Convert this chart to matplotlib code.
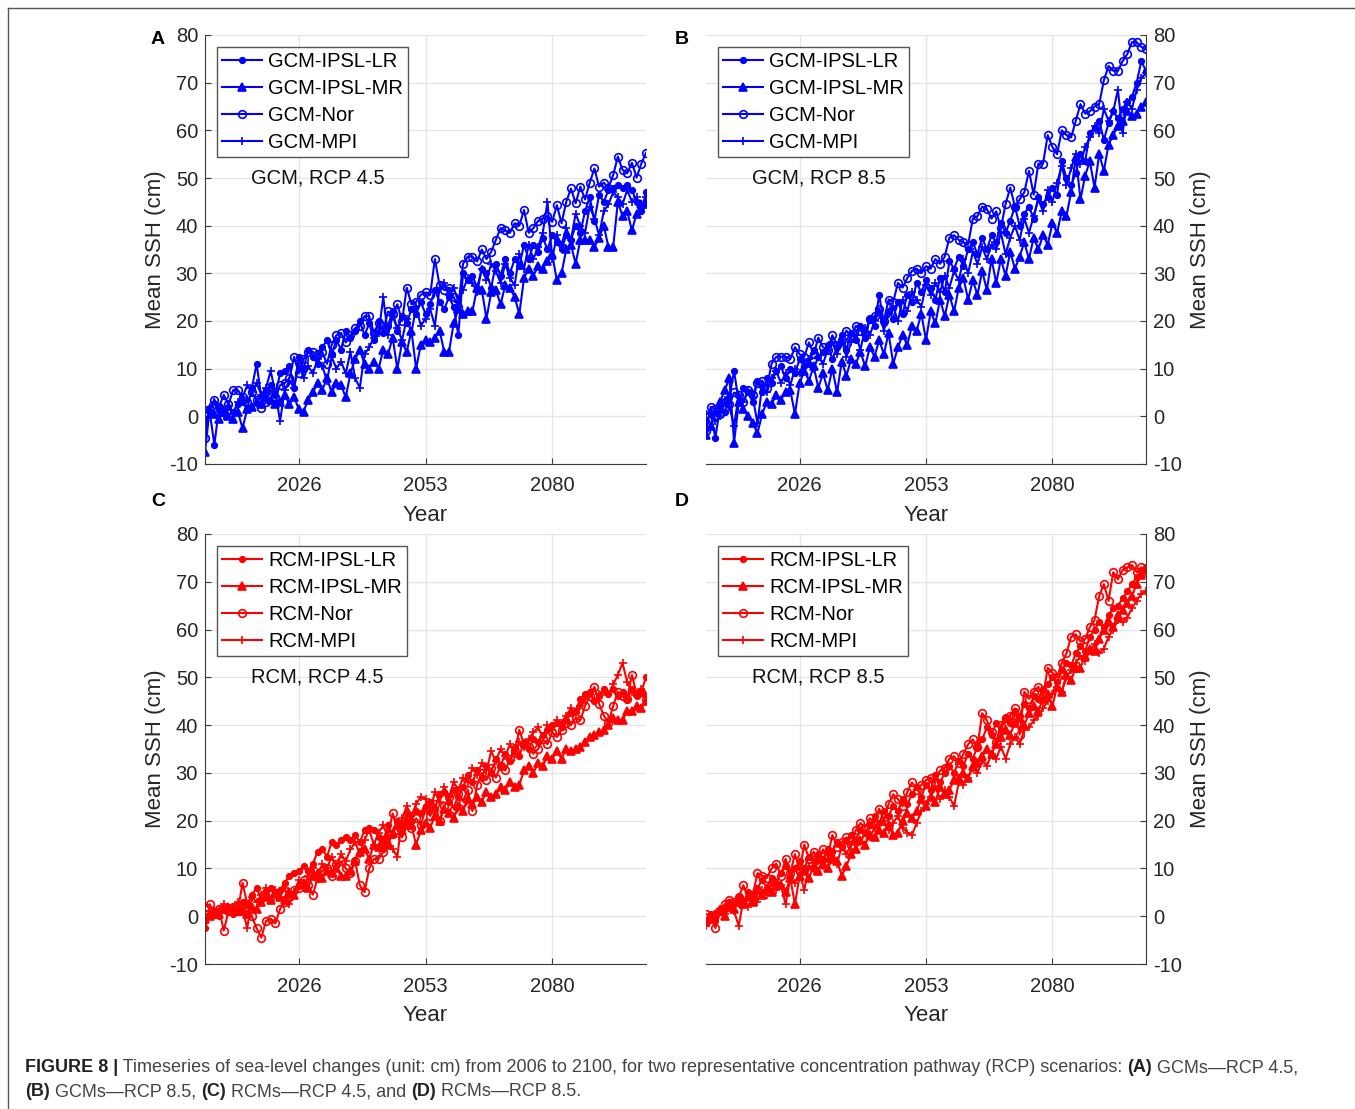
import matplotlib
matplotlib.use("Agg")
import matplotlib.pyplot as plt
from matplotlib.lines import Line2D

plt.rcParams['font.family'] = ['Liberation Sans', 'DejaVu Sans']
plt.rcParams['axes.unicode_minus'] = False

years = list(range(2006, 2101))

# ---------------- Panel A: GCM, RCP 4.5 ----------------
A_LR = [-1.0, 1.0, -6.0, 2.0, 1.0, 2.0, 1.0, 2.5, 3.0, 1.5, 6.0, 11.0, 4.0, 5.5, 6.5, 4.5, 9.0, 9.5, 10.5, 6.0,
        12.5, 10.0, 14.0, 12.5, 11.0, 14.5, 16.0, 13.0, 16.0, 14.0, 18.0, 16.5, 18.0, 20.0, 17.0, 19.5, 16.0, 20.0,
        17.5, 19.0, 22.0, 18.0, 21.0, 19.5, 22.5, 21.5, 24.0, 21.5, 23.5, 26.5, 24.0, 22.5, 25.0, 23.0, 17.0, 30.0,
        28.5, 29.5, 27.0, 31.0, 30.0, 27.0, 32.0, 29.5, 33.0, 30.0, 33.0, 31.5, 36.0, 33.0, 36.0, 34.5, 37.5, 35.0,
        38.0, 36.5, 35.0, 38.0, 37.0, 40.0, 38.5, 43.0, 46.0, 41.0, 46.5, 45.0, 47.5, 48.0, 48.5, 48.0, 48.5, 47.5,
        45.0, 43.0, 47.0]
A_MR = [-7.5, 1.5, 0.5, -0.5, 1.0, 0.0, -0.5, 1.0, -2.5, 1.5, 2.0, 3.0, 2.5, 4.0, 3.5, 2.5, 3.0, 4.5, 2.5, 4.0,
        1.5, 1.0, 3.5, 5.0, 7.0, 5.5, 8.0, 5.0, 7.0, 6.5, 4.0, 9.0, 12.0, 14.0, 11.0, 10.0, 11.5, 10.0, 14.0, 13.0,
        16.5, 10.0, 15.5, 13.5, 18.0, 10.0, 15.0, 16.0, 15.5, 16.5, 18.0, 13.5, 13.5, 19.5, 22.5, 21.5, 22.0, 22.0,
        27.0, 26.5, 20.5, 26.0, 26.5, 23.5, 27.5, 27.0, 25.0, 21.5, 29.0, 31.0, 29.5, 31.5, 31.0, 32.5, 34.0, 28.5,
        30.0, 35.0, 36.0, 32.0, 37.0, 37.0, 37.0, 35.5, 37.5, 40.0, 35.5, 35.5, 45.0, 42.0, 43.0, 39.0, 42.5, 44.5,
        44.5]
A_Nor = [-4.5, 1.5, 3.5, 2.0, 4.5, 2.5, 5.5, 5.5, 4.0, 3.0, 5.0, 3.5, 1.8, 3.0, 5.5, 4.0, 6.5, 7.0, 8.0, 12.5,
         9.0, 12.0, 13.5, 13.5, 13.0, 13.5, 11.0, 15.0, 17.0, 17.5, 15.5, 17.0, 18.5, 19.0, 21.0, 21.0, 17.5, 19.5,
         18.0, 22.0, 21.5, 23.5, 20.0, 27.0, 23.5, 24.0, 25.5, 26.0, 25.5, 33.0, 27.5, 26.5, 27.0, 25.0, 23.0, 32.0,
         33.5, 33.5, 32.5, 35.0, 33.0, 34.5, 37.0, 39.5, 39.0, 38.5, 40.5, 40.0, 43.3, 38.5, 39.5, 41.0, 41.5, 42.0,
         40.8, 44.3, 40.5, 45.0, 47.8, 44.7, 48.2, 45.5, 49.0, 52.0, 48.2, 49.0, 48.0, 50.6, 54.5, 51.7, 51.0, 53.2,
         50.1, 53.0, 55.3]
A_MPI = [1.5, 2.0, 3.0, 1.0, 0.0, 2.0, 0.5, 3.0, 4.0, 6.5, 5.0, 7.0, 4.5, 6.0, 9.5, 5.0, -1.0, 5.5, 7.5, 6.0,
         11.0, 8.0, 10.5, 9.0, 12.0, 10.5, 7.5, 12.5, 10.0, 11.5, 9.0, 13.5, 8.0, 6.0, 13.0, 14.5, 16.5, 17.5, 25.0,
         17.0, 21.0, 18.5, 16.0, 20.5, 17.5, 23.0, 19.0, 20.5, 22.5, 19.0, 27.0, 28.0, 25.5, 27.0, 24.0, 26.5, 29.0,
         28.0, 26.0, 31.0, 28.5, 32.0, 30.5, 28.0, 32.0, 29.0, 27.5, 34.0, 31.0, 36.0, 33.0, 35.5, 38.5, 45.0, 33.0,
         38.0, 36.0, 39.5, 37.0, 42.5, 40.0, 38.5, 44.0, 41.5, 38.0, 43.0, 44.5, 47.0, 46.0, 44.5, 47.5, 45.0, 46.0,
         43.0, 46.0]

# ---------------- Panel B: GCM, RCP 8.5 ----------------
B_LR = [-1.0, 0.5, -4.5, 2.0, 1.0, 4.0, 9.5, 3.0, 6.0, 5.0, 3.0, 7.5, 5.0, 8.0, 7.0, 9.5, 10.5, 8.0, 10.0, 9.0,
        12.0, 10.5, 11.0, 14.0, 12.5, 13.5, 15.0, 12.0, 14.5, 17.0, 14.0, 17.5, 16.0, 19.0, 16.5, 20.5, 19.0, 25.5,
        19.5, 22.0, 20.5, 24.0, 21.5, 25.5, 24.0, 28.0, 26.0, 28.5, 27.0, 24.5, 29.0, 26.0, 32.5, 31.0, 33.5, 31.5,
        35.0, 36.5, 34.0, 37.5, 35.0, 38.0, 36.5, 40.5, 38.5, 41.0, 44.0, 40.0, 42.5, 44.0, 41.5, 46.0, 44.5, 46.0,
        48.0, 46.5, 53.5, 50.0, 48.5, 51.0, 55.0, 53.5, 59.5, 60.5, 62.0, 58.0, 61.5, 64.0, 62.5, 64.5, 66.0, 67.0,
        70.0, 74.5, 72.5]
B_MR = [-4.0, -2.0, 1.0, 3.0, 5.5, 8.0, -5.5, 3.0, 1.5, 0.0, -1.5, -3.5, 0.5, 3.0, 2.5, 4.5, 3.5, 5.0, 5.5, 0.5,
        7.0, 9.5, 7.5, 10.5, 6.0, 9.0, 5.5, 10.0, 5.0, 11.5, 8.5, 12.0, 11.0, 13.5, 10.5, 14.5, 12.5, 16.0, 13.0,
        17.5, 11.0, 14.5, 17.0, 15.0, 19.0, 18.0, 21.5, 16.0, 22.0, 19.5, 24.5, 21.0, 25.5, 22.0, 27.0, 29.0, 24.5,
        28.5, 25.5, 30.5, 26.5, 33.0, 28.0, 33.0, 29.5, 34.5, 31.0, 33.5, 36.5, 33.0, 37.5, 35.0, 38.0, 36.0, 40.5,
        38.5, 43.0, 42.0, 47.0, 54.5, 45.5, 50.5, 53.5, 48.0, 55.0, 51.5, 57.0, 59.0, 61.0, 62.0, 64.0, 63.0, 63.5,
        65.0, 66.0]
B_Nor = [-3.0, 2.0, 1.5, 0.5, 3.0, 2.5, 5.0, 4.5, 3.0, 5.5, 4.5, 7.0, 7.5, 6.0, 11.0, 12.5, 12.5, 12.5, 12.0, 14.5,
         13.0, 12.5, 15.5, 13.0, 16.5, 14.5, 14.0, 17.0, 15.0, 16.0, 18.0, 16.5, 19.0, 18.0, 17.5, 20.5, 21.0, 22.5,
         20.0, 24.5, 24.0, 28.0, 27.0, 29.0, 30.5, 31.0, 30.0, 31.5, 31.0, 33.0, 32.0, 33.5, 37.5, 38.0, 37.0, 36.5,
         36.0, 41.5, 42.0, 44.0, 43.5, 41.5, 43.0, 39.5, 44.5, 48.0, 44.0, 45.5, 47.0, 51.5, 46.5, 53.0, 53.0, 59.0,
         56.5, 55.0, 60.0, 59.0, 58.5, 62.0, 65.5, 63.5, 64.0, 65.0, 65.5, 70.5, 73.5, 72.5, 72.5, 74.5, 76.0, 78.5,
         78.5, 77.5, 77.0]
B_MPI = [0.5, 1.0, -1.0, 0.0, 3.5, 2.0, -2.0, 4.5, 3.0, 5.5, 4.0, -1.5, 6.5, 5.0, 8.0, 9.5, 7.0, 9.0, 6.5, 10.0,
         9.0, 11.5, 12.0, 10.0, 12.5, 11.0, 14.0, 15.5, 13.0, 16.0, 12.5, 15.5, 17.0, 14.0, 18.5, 17.0, 20.0, 22.0,
         18.0, 21.5, 23.0, 20.0, 24.5, 22.0, 26.0, 24.5, 23.0, 27.5, 25.5, 28.0, 26.0, 29.5, 27.0, 30.5, 28.5, 33.0,
         30.0, 34.5, 32.0, 35.5, 33.0, 36.0, 35.0, 38.5, 34.0, 37.5, 40.0, 37.0, 41.5, 38.5, 42.0, 45.5, 43.0, 47.5,
         45.0, 49.0, 52.5, 48.5, 52.0, 55.0, 53.0, 56.5, 58.5, 61.0, 59.5, 64.5, 62.0, 64.0, 68.5, 59.5, 66.0, 64.5,
         68.5, 71.0, 72.0]

# ---------------- Panel C: RCM, RCP 4.5 ----------------
C_LR = [-2.5, 0.5, 1.0, 0.0, 1.5, 2.0, 0.5, 1.5, 3.0, 2.5, 4.5, 6.0, 3.5, 5.0, 6.0, 4.5, 5.5, 7.0, 8.5, 9.0,
        9.5, 10.5, 9.5, 11.0, 13.5, 14.0, 12.5, 15.5, 15.0, 16.0, 16.5, 16.0, 17.0, 15.5, 18.0, 18.5, 18.0, 16.5,
        14.0, 19.0, 17.0, 20.0, 19.0, 21.5, 20.0, 22.0, 21.5, 23.0, 24.0, 22.5, 25.5, 26.0, 24.0, 26.5, 25.0, 27.0,
        29.5, 28.0, 30.5, 29.0, 31.5, 30.0, 33.0, 31.5, 34.0, 32.5, 35.5, 33.5, 36.5, 35.0, 37.0, 36.5, 38.0, 39.0,
        40.0, 40.5, 39.5, 41.0, 42.5, 43.0, 45.5, 46.5, 47.0, 45.0, 46.0, 47.5, 46.5, 47.5, 46.0, 47.0, 45.5, 47.5,
        46.0, 47.0, 50.0]
C_MR = [-0.5, 0.0, 1.0, 0.5, 1.5, 2.0, 1.0, 1.0, 1.0, 0.5, 2.0, 1.5, 3.0, 4.0, 3.5, 5.0, 4.0, 3.5, 5.0, 4.5,
        6.5, 7.0, 6.0, 8.5, 9.0, 8.0, 9.5, 9.0, 10.0, 8.5, 8.5, 9.5, 11.5, 13.5, 14.0, 12.0, 15.0, 14.5, 16.0, 15.0,
        17.5, 19.0, 18.0, 20.0, 19.0, 15.0, 18.0, 19.5, 18.5, 21.0, 20.0, 22.5, 21.5, 20.5, 23.0, 22.0, 24.5, 23.5,
        25.0, 24.0, 26.0, 25.0, 25.5, 27.0, 26.5, 28.0, 27.0, 27.5, 30.5, 31.5, 30.0, 32.0, 31.5, 33.5, 33.0, 34.5,
        33.0, 35.0, 34.5, 35.0, 35.5, 36.5, 37.5, 38.0, 38.5, 39.0, 40.0, 41.5, 41.0, 41.0, 43.0, 43.0, 44.0, 43.5,
        45.0]
C_Nor = [2.0, 2.5, 0.5, 1.5, -3.0, 1.0, 2.0, 1.0, 7.0, 2.5, 0.0, -2.5, -4.5, -1.0, -0.5, -1.5, 1.5, 3.0, 4.0, 5.5,
         6.0, 7.5, 6.5, 4.5, 8.0, 9.5, 10.0, 8.5, 11.0, 11.5, 10.0, 9.0, 11.5, 6.5, 5.0, 10.0, 12.0, 12.0, 13.5,
         17.0, 21.5, 18.0, 16.5, 19.0, 18.5, 20.5, 19.0, 22.5, 21.0, 23.5, 20.0, 23.0, 25.0, 22.5, 25.5, 24.0, 26.5,
         22.0, 27.5, 30.0, 28.5, 31.0, 29.0, 31.5, 30.5, 33.0, 34.5, 39.0, 36.0, 35.5, 34.0, 35.0, 37.0, 36.0, 38.5,
         37.5, 39.0, 40.5, 40.0, 41.5, 41.0, 44.0, 46.0, 48.0, 44.5, 42.0, 40.5, 44.0, 47.0, 46.0, 45.5, 50.5, 46.5,
         47.0, 45.5]
C_MPI = [0.0, 1.0, 0.5, 1.5, 2.5, 1.0, 2.0, 3.0, 1.5, -2.5, 4.0, 3.0, 4.5, 6.0, 3.5, 5.5, 4.0, 6.0, 2.5, 5.0,
         7.5, 6.0, 8.5, 10.0, 8.0, 11.0, 10.0, 12.5, 10.5, 13.0, 11.5, 14.0, 15.5, 13.0, 16.0, 18.0, 15.0, 17.5,
         19.0, 16.5, 14.0, 12.5, 20.5, 23.0, 21.0, 23.5, 25.0, 24.5, 22.0, 26.0, 24.0, 27.0, 25.0, 28.0, 26.5, 29.0,
         28.0, 31.0, 29.5, 32.0, 30.5, 34.5, 32.5, 35.0, 33.5, 36.0, 34.0, 36.5, 35.5, 37.0, 38.5, 39.5, 37.5, 40.0,
         39.0, 41.0, 40.5, 42.0, 43.5, 42.5, 44.0, 45.5, 46.5, 45.0, 46.5, 47.0, 46.5, 48.5, 50.5, 53.0, 49.0, 47.0,
         46.0, 47.5, 46.0]

# ---------------- Panel D: RCM, RCP 8.5 ----------------
D_LR = [-1.5, 0.5, -1.0, 1.5, 2.0, 3.0, 2.5, 4.0, 3.0, 5.0, 4.0, 6.0, 7.5, 6.0, 8.0, 7.0, 9.0, 10.5, 8.5, 10.0,
        11.5, 10.0, 12.5, 11.5, 13.0, 12.0, 14.0, 13.5, 15.5, 14.5, 16.0, 17.0, 16.0, 18.0, 17.5, 19.0, 21.0, 19.5,
        22.0, 21.0, 23.0, 22.0, 24.5, 23.5, 25.5, 27.0, 25.0, 27.5, 26.5, 29.5, 28.0, 30.0, 31.5, 30.0, 32.5, 31.5,
        34.0, 33.0, 35.5, 37.0, 39.5, 38.0, 40.5, 39.0, 41.5, 40.5, 43.0, 42.0, 44.5, 43.5, 46.0, 45.5, 47.5, 48.5,
        50.0, 49.0, 51.5, 53.0, 52.5, 55.0, 56.5, 55.5, 58.5, 60.0, 61.5, 60.5, 63.0, 64.5, 65.0, 66.5, 68.0, 69.5,
        71.0, 72.5, 73.0]
D_MR = [-1.0, -0.5, 0.5, 1.0, 0.0, 2.0, 1.5, 3.0, 2.5, 4.0, 3.0, 5.5, 4.5, 6.0, 5.0, 7.0, 6.5, 5.0, 8.0, 2.5,
        8.5, 9.5, 8.0, 10.5, 9.5, 11.0, 10.0, 12.0, 11.5, 8.5, 10.5, 13.0, 14.0, 16.0, 15.0, 17.0, 16.5, 18.0, 17.5,
        19.0, 17.0, 17.5, 20.0, 21.5, 20.5, 22.0, 24.5, 23.0, 25.0, 24.0, 27.0, 25.5, 26.5, 28.5, 29.0, 30.0, 29.0,
        31.5, 32.0, 33.5, 35.0, 34.0, 36.0, 37.5, 39.0, 38.0, 40.5, 41.5, 40.0, 42.5, 44.0, 43.0, 45.5, 46.5, 44.0,
        48.0, 47.0, 50.5, 49.5, 52.0, 52.0, 54.5, 56.0, 55.5, 58.0, 60.0, 61.5, 60.5, 63.0, 64.0, 65.5, 67.0, 69.5,
        71.5, 72.5]
D_Nor = [0.5, 0.0, -2.5, 1.0, 2.5, 3.5, 3.0, 4.0, 6.5, 3.5, 4.5, 9.0, 8.5, 8.0, 10.0, 11.0, 8.5, 12.0, 9.0, 13.0,
         9.5, 15.0, 12.0, 13.5, 11.0, 14.0, 12.5, 17.0, 14.5, 15.5, 16.5, 15.0, 18.0, 19.5, 18.5, 20.5, 19.5, 22.5,
         20.0, 23.5, 25.5, 24.5, 23.0, 26.0, 28.0, 26.5, 27.5, 28.5, 29.0, 28.0, 30.5, 31.0, 33.0, 33.5, 32.0, 34.0,
         36.0, 37.0, 35.5, 42.5, 41.0, 38.5, 36.5, 40.0, 41.5, 42.0, 43.5, 38.0, 47.0, 45.5, 47.0, 48.0, 46.0, 52.0,
         51.0, 50.0, 53.0, 55.0, 58.5, 59.0, 57.5, 58.0, 60.5, 62.0, 67.0, 69.5, 66.0, 72.0, 70.5, 72.5, 73.0, 73.5,
         72.0, 73.0, 72.0]
D_MPI = [-2.0, 0.0, -1.0, 1.5, 0.5, 2.5, 1.0, -2.0, 3.5, 2.0, 4.0, 3.0, 5.5, 4.5, 7.0, 5.5, 6.5, 2.5, 8.0, 7.0,
         9.0, 5.5, 10.5, 9.5, 11.5, 10.5, 12.0, 13.5, 11.0, 14.5, 13.0, 15.0, 16.0, 15.5, 17.5, 16.5, 18.5, 19.0,
         20.0, 18.0, 19.5, 21.0, 18.5, 17.5, 17.0, 19.5, 22.0, 23.5, 25.0, 27.0, 24.5, 26.5, 25.0, 23.0, 28.0, 27.5,
         29.0, 31.0, 30.0, 32.5, 31.5, 34.0, 33.0, 35.5, 33.0, 36.0, 37.5, 36.0, 39.0, 39.5, 41.0, 42.0, 43.5, 45.0,
         46.5, 48.0, 47.0, 50.0, 51.5, 53.0, 54.5, 53.5, 55.5, 57.0, 55.0, 56.0, 58.5, 60.0, 62.0, 61.5, 62.5, 64.5,
         66.0, 67.5, 68.0]

series_names = ['IPSL-LR', 'IPSL-MR', 'Nor', 'MPI']
y_ticks = [-10, 0, 10, 20, 30, 40, 50, 60, 70, 80]
x_ticks = [2026, 2053, 2080]

panels = [
    dict(letter='A', prefix='GCM', rcp='4.5', data=[A_LR, A_MR, A_Nor, A_MPI], color='#0000FF', side='left'),
    dict(letter='B', prefix='GCM', rcp='8.5', data=[B_LR, B_MR, B_Nor, B_MPI], color='#0000FF', side='right'),
    dict(letter='C', prefix='RCM', rcp='4.5', data=[C_LR, C_MR, C_Nor, C_MPI], color='#FF0000', side='left'),
    dict(letter='D', prefix='RCM', rcp='8.5', data=[D_LR, D_MR, D_Nor, D_MPI], color='#FF0000', side='right'),
]

W, H = 1355, 1109
fig = plt.figure(figsize=(W / 100, H / 100), dpi=100)

# pixel boxes: left, top, right, bottom
boxes = [(205, 35, 646, 464), (706, 35, 1146, 464), (205, 534, 646, 964), (706, 534, 1146, 964)]
letter_pos = [(158, 40), (682, 40), (158, 501), (682, 501)]

marker_styles = [
    dict(marker='.', markersize=8),
    dict(marker='^', markersize=5.5),
    dict(marker='o', markersize=5.5, markerfacecolor='none'),
    dict(marker='+', markersize=6),
]

axis_color = '#3a3a3a'
for p, (l, t, r, b), (lx, ly) in zip(panels, boxes, letter_pos):
    ax = fig.add_axes([l / W, 1 - b / H, (r - l) / W, (b - t) / H])
    c = p['color']
    for name, vals, ms in zip(series_names, p['data'], marker_styles):
        ax.plot(years, vals, color=c, lw=1.5, markeredgewidth=1.2,
                label=f"{p['prefix']}-{name}", **ms)
    ax.set_xlim(2006, 2100)
    ax.set_ylim(-10, 80)
    ax.set_xticks(x_ticks)
    ax.set_yticks(y_ticks)
    ax.grid(True, color='#e6e6e6', lw=1)
    ax.set_axisbelow(True)
    for s in ['top', 'right', 'left', 'bottom']:
        ax.spines[s].set_visible(False)
    ax.spines['bottom'].set_visible(True)
    ax.spines['bottom'].set_color(axis_color)
    if p['side'] == 'left':
        ax.spines['left'].set_visible(True)
        ax.spines['left'].set_color(axis_color)
        ypad = 2
    else:
        ax.spines['right'].set_visible(True)
        ax.spines['right'].set_color(axis_color)
        ax.yaxis.tick_right()
        ax.yaxis.set_label_position('right')
        ypad = 6
    ax.tick_params(direction='in', length=4, colors=axis_color, labelsize=14.5,
                   labelcolor='#262626')
    ax.tick_params(axis='x', pad=9)
    ax.tick_params(axis='y', pad=5)
    ax.set_xlabel('Year', fontsize=16, color='#262626', labelpad=7)
    ax.set_ylabel('Mean SSH (cm)', fontsize=16, color='#262626', rotation=90,
                  labelpad=ypad)
    leg = ax.legend(loc='upper left', bbox_to_anchor=(0.0, 1.0), fontsize=14.5,
                    frameon=True, fancybox=False, edgecolor='#555555', framealpha=1,
                    handlelength=2.0, handletextpad=0.3, labelspacing=0.40,
                    borderpad=0.25, borderaxespad=0.6)
    leg.get_frame().set_linewidth(1.0)
    ax.text(2030, 50, f"{p['prefix']}, RCP {p['rcp']}", fontsize=14.5, ha='center',
            va='center', color='#111111')
    fig.text(lx / W, 1 - ly / H, p['letter'], fontsize=14, fontweight='bold',
             ha='center', va='center')

# figure frame lines (top and left)
fig.add_artist(Line2D([8 / W, 1.0], [1 - 8 / H, 1 - 8 / H], color='#555555', lw=1))
fig.add_artist(Line2D([8 / W, 8 / W], [1 - 8 / H, 0.0], color='#555555', lw=1))

# caption with bold segments
cap_lines = [
    [("FIGURE 8 |", True), (" Timeseries of sea-level changes (unit: cm) from 2006 to 2100, for two representative concentration pathway (RCP) scenarios: ", False), ("(A)", True), (" GCMs\u2014RCP 4.5,", False)],
    [("(B)", True), (" GCMs\u2014RCP 8.5, ", False), ("(C)", True), (" RCMs\u2014RCP 4.5, and ", False), ("(D)", True), (" RCMs\u2014RCP 8.5.", False)],
]
cap_y = [1068, 1092]
fig.canvas.draw()
renderer = fig.canvas.get_renderer()
cap_font = ['Liberation Sans', 'DejaVu Sans']
for segs, yy in zip(cap_lines, cap_y):
    x = 25
    for txt, bold in segs:
        t = fig.text(x / W, 1 - yy / H, txt, fontsize=13, family=cap_font,
                     fontweight='bold' if bold else 'normal',
                     color='#222222' if bold else '#444444', ha='left', va='center')
        bb = t.get_window_extent(renderer=renderer)
        x = bb.x1

fig.savefig('out.png', dpi=100)
